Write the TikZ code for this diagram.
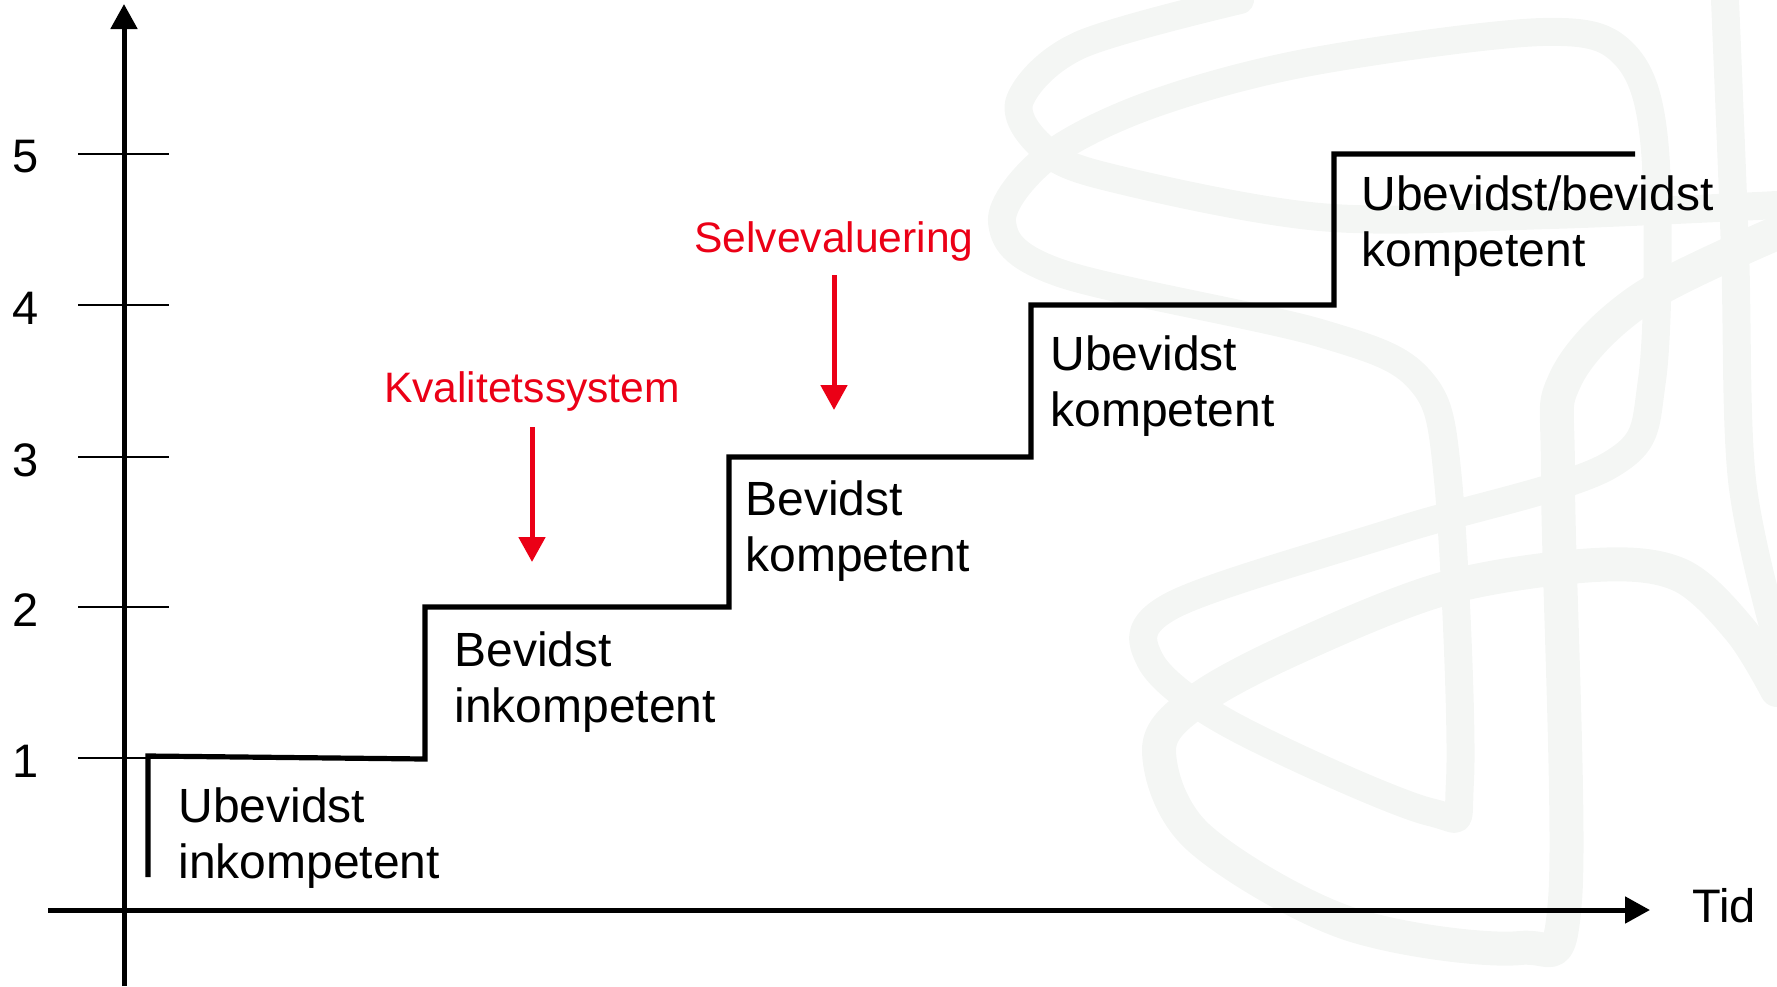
\documentclass[tikz,border=0pt]{standalone}
\usepackage{fontspec}
\setmainfont{Liberation Sans}
\usetikzlibrary{arrows.meta,positioning}
\definecolor{toolred}{RGB}{235,0,22}
\definecolor{logogray}{RGB}{244,246,244}

\begin{document}
\begin{tikzpicture}[x=0.5pt,y=-0.5pt,
  axis/.style={line width=2.5pt,-{Triangle[width=13pt,length=12.5pt]}},
  stair/.style={line width=2.6pt},
  tickmark/.style={line width=1.1pt},
  level/.style={anchor=north west,align=left,inner sep=0pt,font=\fontsize{24}{28}\selectfont},
  num/.style={inner sep=0pt,font=\fontsize{23.5}{28}\selectfont},
  tool/.style={anchor=base,inner sep=0pt,text=toolred,font=\fontsize{21.3}{25}\selectfont},
  toolarrow/.style={draw=toolred,line width=2.5pt,-{Triangle[width=13pt,length=12.5pt]}},
  logo/.style={draw=logogray,line width=14pt,line cap=round,line join=round}]
\useasboundingbox (0,0) rectangle (1777,986);
% faint logo behind the chart
\draw[logo] plot[smooth cycle,tension=0.55] coordinates {(1173,605) (1400,530)
  (1610,465) (1652,380) (1655,150) (1625,55) (1543,32) (1310,62) (1150,105)
  (1047,157) (1002,222) (1060,273) (1320,333) (1420,380) (1448,480)
  (1460,780) (1430,812) (1233,726) (1150,660)};
\draw[logo] plot[smooth,tension=0.55] coordinates {(1240,0) (1080,45)
  (1020,100) (1040,145) (1100,175) (1320,217) (1550,215) (1777,205)};
\draw[logo,line width=17pt] plot[smooth,tension=0.55] coordinates {(1777,233)
  (1640,300) (1565,380) (1558,480) (1565,900) (1520,948) (1347,923)
  (1198,837) (1159,750) (1198,700) (1297,647) (1446,588) (1595,565)
  (1680,575) (1740,630) (1777,690)};
\draw[logo] plot[smooth,tension=0.55] coordinates {(1725,0) (1735,250)
  (1742,480) (1777,640)};

% axes
\coordinate (ybot) at (124,986);
\coordinate (ytop) at (124,4);
\coordinate (xleft) at (48,910);
\coordinate (xright) at (1650,910);
\draw[axis] (ybot) -- (ytop);
\draw[axis] (xleft) -- (xright);
\node[num,anchor=base west] (tid) at (1692,922) {Tid};
\foreach \n/\y in {1/758,2/607,3/457,4/305,5/154}{
  \draw[tickmark] (78,\y) -- (169,\y);
  \node[num] (n\n) at (26,\y+3) {\n};
}

% staircase
\coordinate (s0) at (148,877);
\coordinate (s1) at (148,756);
\coordinate (s2) at (425,759);
\coordinate (s3) at (425,607);
\coordinate (s4) at (729,607);
\coordinate (s5) at (729,457);
\coordinate (s6) at (1031,457);
\coordinate (s7) at (1031,305);
\coordinate (s8) at (1334,305);
\coordinate (s9) at (1334,154);
\coordinate (s10) at (1635,154);
\draw[stair] (s0) -- (s1) -- (s2) -- (s3) -- (s4) -- (s5) -- (s6) -- (s7)
  -- (s8) -- (s9) -- (s10);

\node[level] (ui) at (178,787) {Ubevidst\\inkompetent};
\node[level] (bi) at (454,631) {Bevidst\\inkompetent};
\node[level] (bk) at (745,480) {Bevidst\\kompetent};
\node[level] (uk) at (1050,335) {Ubevidst\\kompetent};
\node[level] (ubk) at (1361,175) {Ubevidst/bevidst\\kompetent};

% tools
\node[tool] (kval) at (532,402) {Kvalitetssystem};
\coordinate[below=12.5pt of kval.base] (kvaltop);
\coordinate[below=67.5pt of kvaltop] (kvalbot);
\draw[toolarrow] (kvaltop) -- (kvalbot);

\node[tool] (selv) at (834,252) {Selvevaluering};
\coordinate[below=11.5pt of selv.base] (selvtop);
\coordinate[below=67.5pt of selvtop] (selvbot);
\draw[toolarrow] (selvtop) -- (selvbot);
\end{tikzpicture}
\end{document}
